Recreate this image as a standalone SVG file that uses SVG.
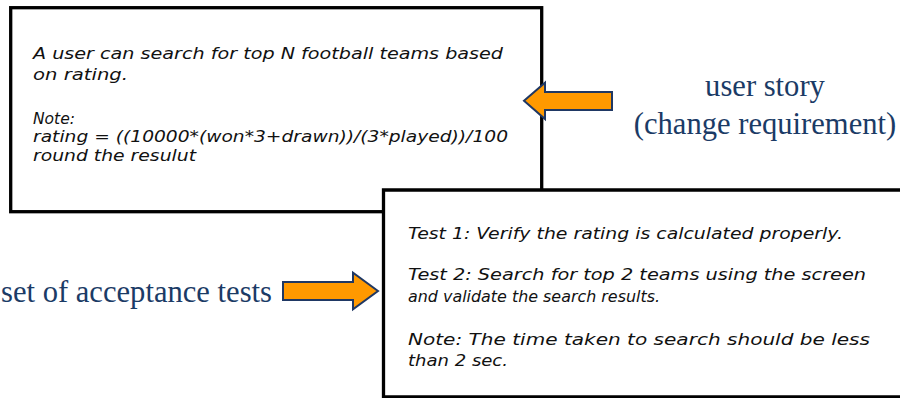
<svg xmlns="http://www.w3.org/2000/svg" width="910" height="398" viewBox="0 0 910 398">
  <style>
    .card { fill: #ffffff; stroke: #000000; stroke-width: 3.3; }
    .hand { font-family: "DejaVu Sans", "Noto Sans", sans-serif; font-style: italic; font-size: 16px; fill: #111111; }
    .label { font-family: "Liberation Serif", "Times New Roman", serif; font-size: 30.6px; fill: #1B3B66; }
    .arrow { fill: #FF9900; stroke: #1F3864; stroke-width: 2; stroke-linejoin: miter; }
  </style>

  <rect x="0" y="0" width="910" height="398" fill="#ffffff"/>

  <!-- user story card -->
  <g id="story-card">
    <rect class="card" x="10.7" y="7.7" width="531" height="204"/>
    <text class="hand" x="33" y="59" textLength="470" lengthAdjust="spacingAndGlyphs">A user can search for top N football teams based</text>
    <text class="hand" x="33" y="79.5" textLength="95" lengthAdjust="spacingAndGlyphs">on rating.</text>
    <text class="hand" x="33" y="123.5" textLength="42" lengthAdjust="spacingAndGlyphs">Note:</text>
    <text class="hand" x="33" y="142" textLength="475" lengthAdjust="spacingAndGlyphs">rating = ((10000*(won*3+drawn))/(3*played))/100</text>
    <text class="hand" x="33" y="160.5" textLength="163" lengthAdjust="spacingAndGlyphs">round the resulut</text>
  </g>

  <!-- acceptance test card, drawn over the story card; right side runs off the page -->
  <g id="test-card">
    <rect x="383.5" y="190" width="516.5" height="207" fill="#ffffff"/>
    <path class="card" fill="none" d="M900 190 H383.5 V397 H900"/>
    <text class="hand" x="408" y="238.5" textLength="435" lengthAdjust="spacingAndGlyphs">Test 1: Verify the rating is calculated properly.</text>
    <text class="hand" x="408" y="280" textLength="458" lengthAdjust="spacingAndGlyphs">Test 2: Search for top 2 teams using the screen</text>
    <text class="hand" x="408" y="301.5" textLength="252" lengthAdjust="spacingAndGlyphs">and validate the search results.</text>
    <text class="hand" x="408" y="345" textLength="462" lengthAdjust="spacingAndGlyphs">Note: The time taken to search should be less</text>
    <text class="hand" x="408" y="365.5" textLength="100" lengthAdjust="spacingAndGlyphs">than 2 sec.</text>
  </g>

  <!-- side labels -->
  <g id="story-label">
    <text class="label" x="765" y="96" text-anchor="middle">user story</text>
    <text class="label" x="765" y="133.5" text-anchor="middle">(change requirement)</text>
  </g>
  <g id="tests-label">
    <text class="label" x="1" y="301.5">set of acceptance tests</text>
  </g>

  <!-- block arrows -->
  <g id="connectors">
    <path class="arrow" d="M524 100.8 L545 82.7 V92 H612 V110 H545 V119 Z"/>
    <path class="arrow" d="M378 291 L353 272.7 V282 H283 V300 H353 V309.3 Z"/>
  </g>
</svg>
